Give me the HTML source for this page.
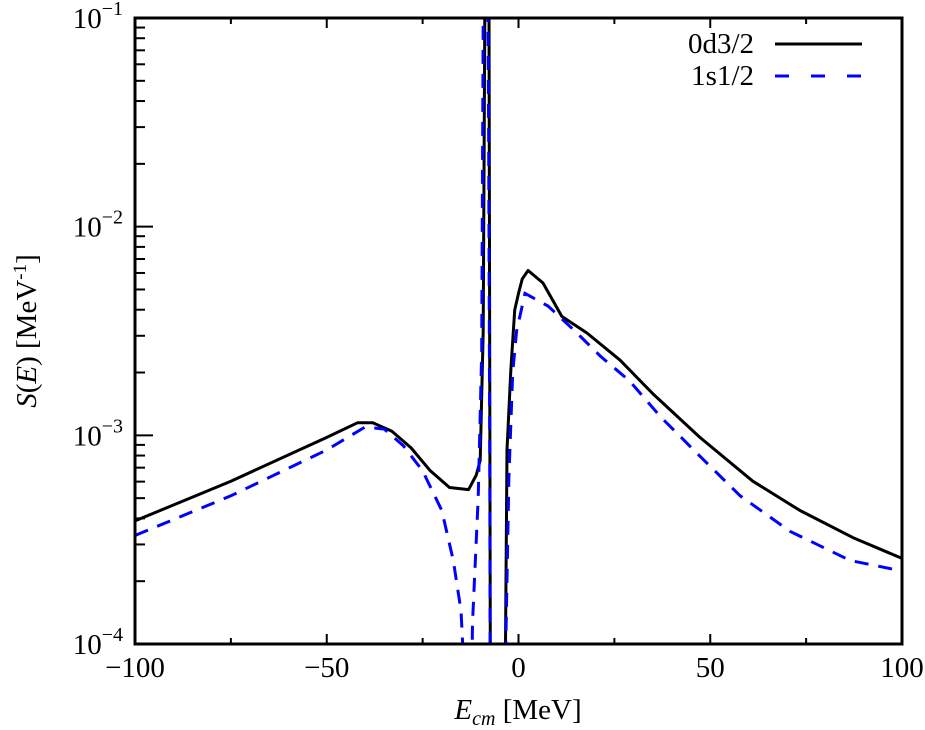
<!DOCTYPE html>
<html><head><meta charset="utf-8">
<style>
html,body{margin:0;padding:0;background:#fff;overflow:hidden;}
svg{display:block;font-family:"Liberation Serif",serif;}
</style></head>
<body>
<svg id="chart" width="925" height="730" viewBox="0 0 925 730" xmlns="http://www.w3.org/2000/svg">
<defs><clipPath id="plotclip"><rect x="135" y="18" width="767" height="626"/></clipPath></defs>
<g id="ticks"></g>
<g id="series" clip-path="url(#plotclip)"></g>
<rect x="135" y="18" width="767" height="626" fill="none" stroke="#000" stroke-width="3"/>
<g id="labels"></g>
<text x="518" y="719" font-size="29" text-anchor="middle"><tspan font-style="italic">E</tspan><tspan font-style="italic" font-size="20" dy="6">cm</tspan><tspan dy="-6"> [MeV]</tspan></text>
<text transform="translate(36,331) rotate(-90)" font-size="29" text-anchor="middle"><tspan font-style="italic">S</tspan>(<tspan font-style="italic">E</tspan>) [MeV<tspan font-size="19" dy="-10">-1</tspan><tspan dy="10">]</tspan></text>
<g>
<text x="754" y="53" font-size="29" text-anchor="end">0d3/2</text>
<line x1="775" y1="44" x2="862" y2="44" stroke="#000" stroke-width="3"/>
<text x="754" y="85" font-size="29" text-anchor="end">1s1/2</text>
<line x1="775" y1="76" x2="862" y2="76" stroke="#0000ff" stroke-width="3" stroke-dasharray="14,22"/>
</g>
</svg>
<script>
const xTicks = [-100, -50, 0, 50, 100];
const xTickLabels = ["\u2212100", "\u221250", "0", "50", "100"];
const yDecades = [-4, -3, -2, -1];
const blackE = [-100,-75,-50,-42,-38,-33,-28,-23,-18,-13,-11,-10,-9.2,-8.8,-8.3,-7.8,-7.3,-3.6,-3,-2,-1,0,1,2.5,6.4,11.3,17.9,26.5,35,47.3,61.1,73.4,87.2,100];
const blackLogS = [-3.41,-3.22,-3.01,-2.94,-2.94,-2.98,-3.06,-3.17,-3.25,-3.26,-3.19,-3.12,-2.5,-1.0,0,0,-4.5,-4.5,-3.07,-2.69,-2.40,-2.32,-2.25,-2.21,-2.27,-2.43,-2.51,-2.64,-2.80,-3.01,-3.22,-3.36,-3.49,-3.59];
const blueE = [-100,-75,-50,-40,-35,-30,-25,-20,-17,-15,-14,-13.8,-12.8,-12,-10.5,-9.6,-9.2,-9,-8.3,-7.8,-7.5,-7.3,-3.8,-3.3,-2.5,-1.5,-0.5,1.7,7.7,14.7,21.3,29,37,47.3,57.8,70.8,86.5,100];
const blueLogS = [-3.48,-3.29,-3.07,-2.96,-2.97,-3.05,-3.17,-3.36,-3.60,-3.84,-4.2,-5,-5,-3.9,-3.3,-2.6,-1.0,0,0,-1.5,-3.0,-5,-5,-4.0,-3.2,-2.7,-2.5,-2.32,-2.38,-2.50,-2.62,-2.74,-2.91,-3.10,-3.29,-3.46,-3.60,-3.65];

const X0=135, X1=902, Y0=644, Y1=18;
function xs(e){return X0+(e+100)/200*(X1-X0);}
function ys(l){return Y0-(l+4)/3*(Y0-Y1);}
const NS="http://www.w3.org/2000/svg";
const tg=document.getElementById('ticks'), lg=document.getElementById('labels'), sg=document.getElementById('series');
function mk(tag,attrs,parent){const el=document.createElementNS(NS,tag);for(const k in attrs)el.setAttribute(k,attrs[k]);parent.appendChild(el);return el;}

xTicks.forEach((t,i)=>{
  const x=xs(t);
  let l=mk('line',{x1:x,y1:Y0,x2:x,y2:Y0-10,stroke:'#000','stroke-width':2},tg);
  
  
  l=mk('line',{x1:x,y1:Y1,x2:x,y2:Y1+10,stroke:'#000','stroke-width':2},tg);
  
  
  const tx=mk('text',{x:x,y:677,'font-size':29,'text-anchor':'middle'},lg);
  tx.textContent=xTickLabels[i];
  
  
  if(i<xTicks.length-1){
    const m=xs(t+25);
    l=mk('line',{x1:m,y1:Y0,x2:m,y2:Y0-6,stroke:'#000','stroke-width':2},tg);
    
    
    l=mk('line',{x1:m,y1:Y1,x2:m,y2:Y1+6,stroke:'#000','stroke-width':2},tg);
    
    
  }
});
yDecades.forEach(d=>{
  const y=ys(d);
  let l=mk('line',{x1:X0,y1:y,x2:X0+18,y2:y,stroke:'#000','stroke-width':2},tg);
  
  
  const tx=mk('text',{x:123,y:y+10,'font-size':29,'text-anchor':'end'},lg);
  
  
  tx.innerHTML='10<tspan font-size="20" dy="-13">\u2212'+(-d)+'</tspan>';
  if(d<-1){for(let k=2;k<=9;k++){
    const ym=ys(d+Math.log10(k));
    const m=mk('line',{x1:X0,y1:ym,x2:X0+10,y2:ym,stroke:'#000','stroke-width':2},tg);
    
    
  }}
});
function path(E,L){return E.map((e,i)=>(i?'L':'M')+xs(e).toFixed(1)+','+ys(L[i]).toFixed(1)).join(' ');}
const pb=mk('path',{d:path(blackE,blackLogS),fill:'none',stroke:'#000','stroke-width':3,'stroke-linejoin':'round'},sg);


const pl=mk('path',{d:path(blueE,blueLogS),fill:'none',stroke:'#0000ff','stroke-width':3,'stroke-dasharray':'14,10'},sg);


</script>
</body></html>
